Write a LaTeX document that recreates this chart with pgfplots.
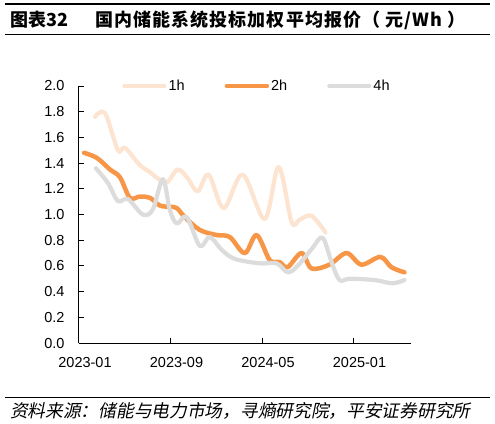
\documentclass[border=0pt]{standalone}
\usepackage{fontspec}
\setmainfont{Liberation Sans}
\newfontfamily\cjk{Noto Sans CJK SC}
\newfontfamily\cjktitle[LetterSpace=6]{Noto Sans CJK SC}
\newfontfamily\cjkit[FakeSlant=0.2]{Noto Sans CJK SC}
\usepackage{pgfplots}
\pgfplotsset{compat=1.18}

\definecolor{c1h}{RGB}{252,228,208}
\definecolor{c2h}{RGB}{247,150,70}
\definecolor{c4h}{RGB}{220,220,220}

\begin{document}
\begin{tikzpicture}[x=1bp,y=1bp]
% page frame, title and source lines (axis origin sits at (0,0))
\path (-79,-80) rectangle (416,343);
\draw[line width=1.2bp] (-74,339) -- (411,339);
\draw[line width=1bp] (-74,309) -- (411,309);
\node[anchor=west, inner sep=0, font=\cjk\bfseries\fontsize{18bp}{20bp}\selectfont] at (-69,323) {图表32};
\node[anchor=west, inner sep=0, font=\cjktitle\bfseries\fontsize{18bp}{20bp}\selectfont] at (16,323) {国内储能系统投标加权平均报价（ 元/Wh ）};
\draw[line width=1bp] (-74,-54) -- (411,-54);
\node[anchor=west, inner sep=0, font=\cjkit\fontsize{17.7bp}{19bp}\selectfont] at (-69,-68) {资料来源：储能与电力市场，寻熵研究院，平安证券研究所};

\begin{axis}[
    anchor=origin,
    scale only axis,
    width=331.7bp, height=257bp,
    xmin=0, xmax=29,
    ymin=0, ymax=2,
    axis x line*=bottom,
    axis y line*=left,
    axis line style={line width=1bp},
    tick style={line width=1bp, black},
    tick align=inside,
    major tick length=5bp,
    xtick={0,8,16,24},
    xticklabels={2023-01,2023-09,2024-05,2025-01},
    ytick={0,0.2,0.4,0.6,0.8,1.0,1.2,1.4,1.6,1.8,2.0},
    yticklabel style={/pgf/number format/fixed, /pgf/number format/precision=1,
        /pgf/number format/fixed zerofill, xshift=-11bp},
    xticklabel style={yshift=-11bp, xshift=6bp},
    /pgf/number format/assume math mode=true,
    tick label style={font=\fontsize{14.5bp}{16bp}\selectfont},
    legend columns=3,
    legend style={at={(0.121,1.0)}, anchor=west, draw=none, fill=none,
        font=\fontsize{14.5bp}{16bp}\selectfont,
        /tikz/every even column/.append style={column sep=38bp}},
    legend image code/.code={\draw[#1, line cap=round] (0bp,0bp) -- (40bp,0bp);},
    every axis plot/.append style={line cap=round, line join=round, smooth, tension=0.55, no markers},
]

\addplot[c1h, line width=4.2bp] coordinates {
(1.40,1.76) (2.27,1.79) (3.40,1.50) (4.01,1.52) (5.32,1.385) (6.20,1.33)
(6.89,1.28) (7.68,1.25) (8.64,1.35) (9.51,1.28) (10.38,1.18) (11.34,1.31)
(12.65,1.05) (14.31,1.31) (16.23,0.965) (17.45,1.37) (18.59,0.94) (19.29,0.96)
(20.33,0.99) (21.55,0.86)
};
\addlegendentry{1h}

\addplot[c2h, line width=4.5bp] coordinates {
(0.44,1.48) (1.57,1.44) (2.71,1.35) (3.58,1.29) (4.45,1.13) (5.32,1.14)
(6.20,1.13) (7.07,1.07) (7.94,1.06) (8.55,1.05) (9.25,0.98) (10.56,0.88)
(12.04,0.84) (13.18,0.825) (14.49,0.70) (15.53,0.84) (16.67,0.646) (17.54,0.63)
(18.24,0.59) (19.46,0.70) (20.33,0.58) (21.90,0.61) (23.39,0.70) (24.69,0.61)
(26.35,0.67) (27.31,0.59) (28.45,0.55)
};
\addlegendentry{2h}

\addplot[c4h, line width=4.2bp] coordinates {
(1.48,1.36) (2.53,1.245) (3.40,1.105) (4.28,1.12) (5.58,1.00) (6.46,1.04)
(7.33,1.275) (7.94,1.035) (8.55,0.93) (9.42,0.98) (10.56,0.755) (11.43,0.825)
(12.48,0.725) (13.61,0.655) (15.79,0.62) (17.28,0.62) (18.24,0.55) (19.11,0.60)
(20.42,0.74) (21.29,0.82) (22.08,0.63) (22.77,0.49) (23.65,0.50) (25.83,0.49)
(27.40,0.465) (28.45,0.49)
};
\addlegendentry{4h}

\end{axis}
\end{tikzpicture}
\end{document}
